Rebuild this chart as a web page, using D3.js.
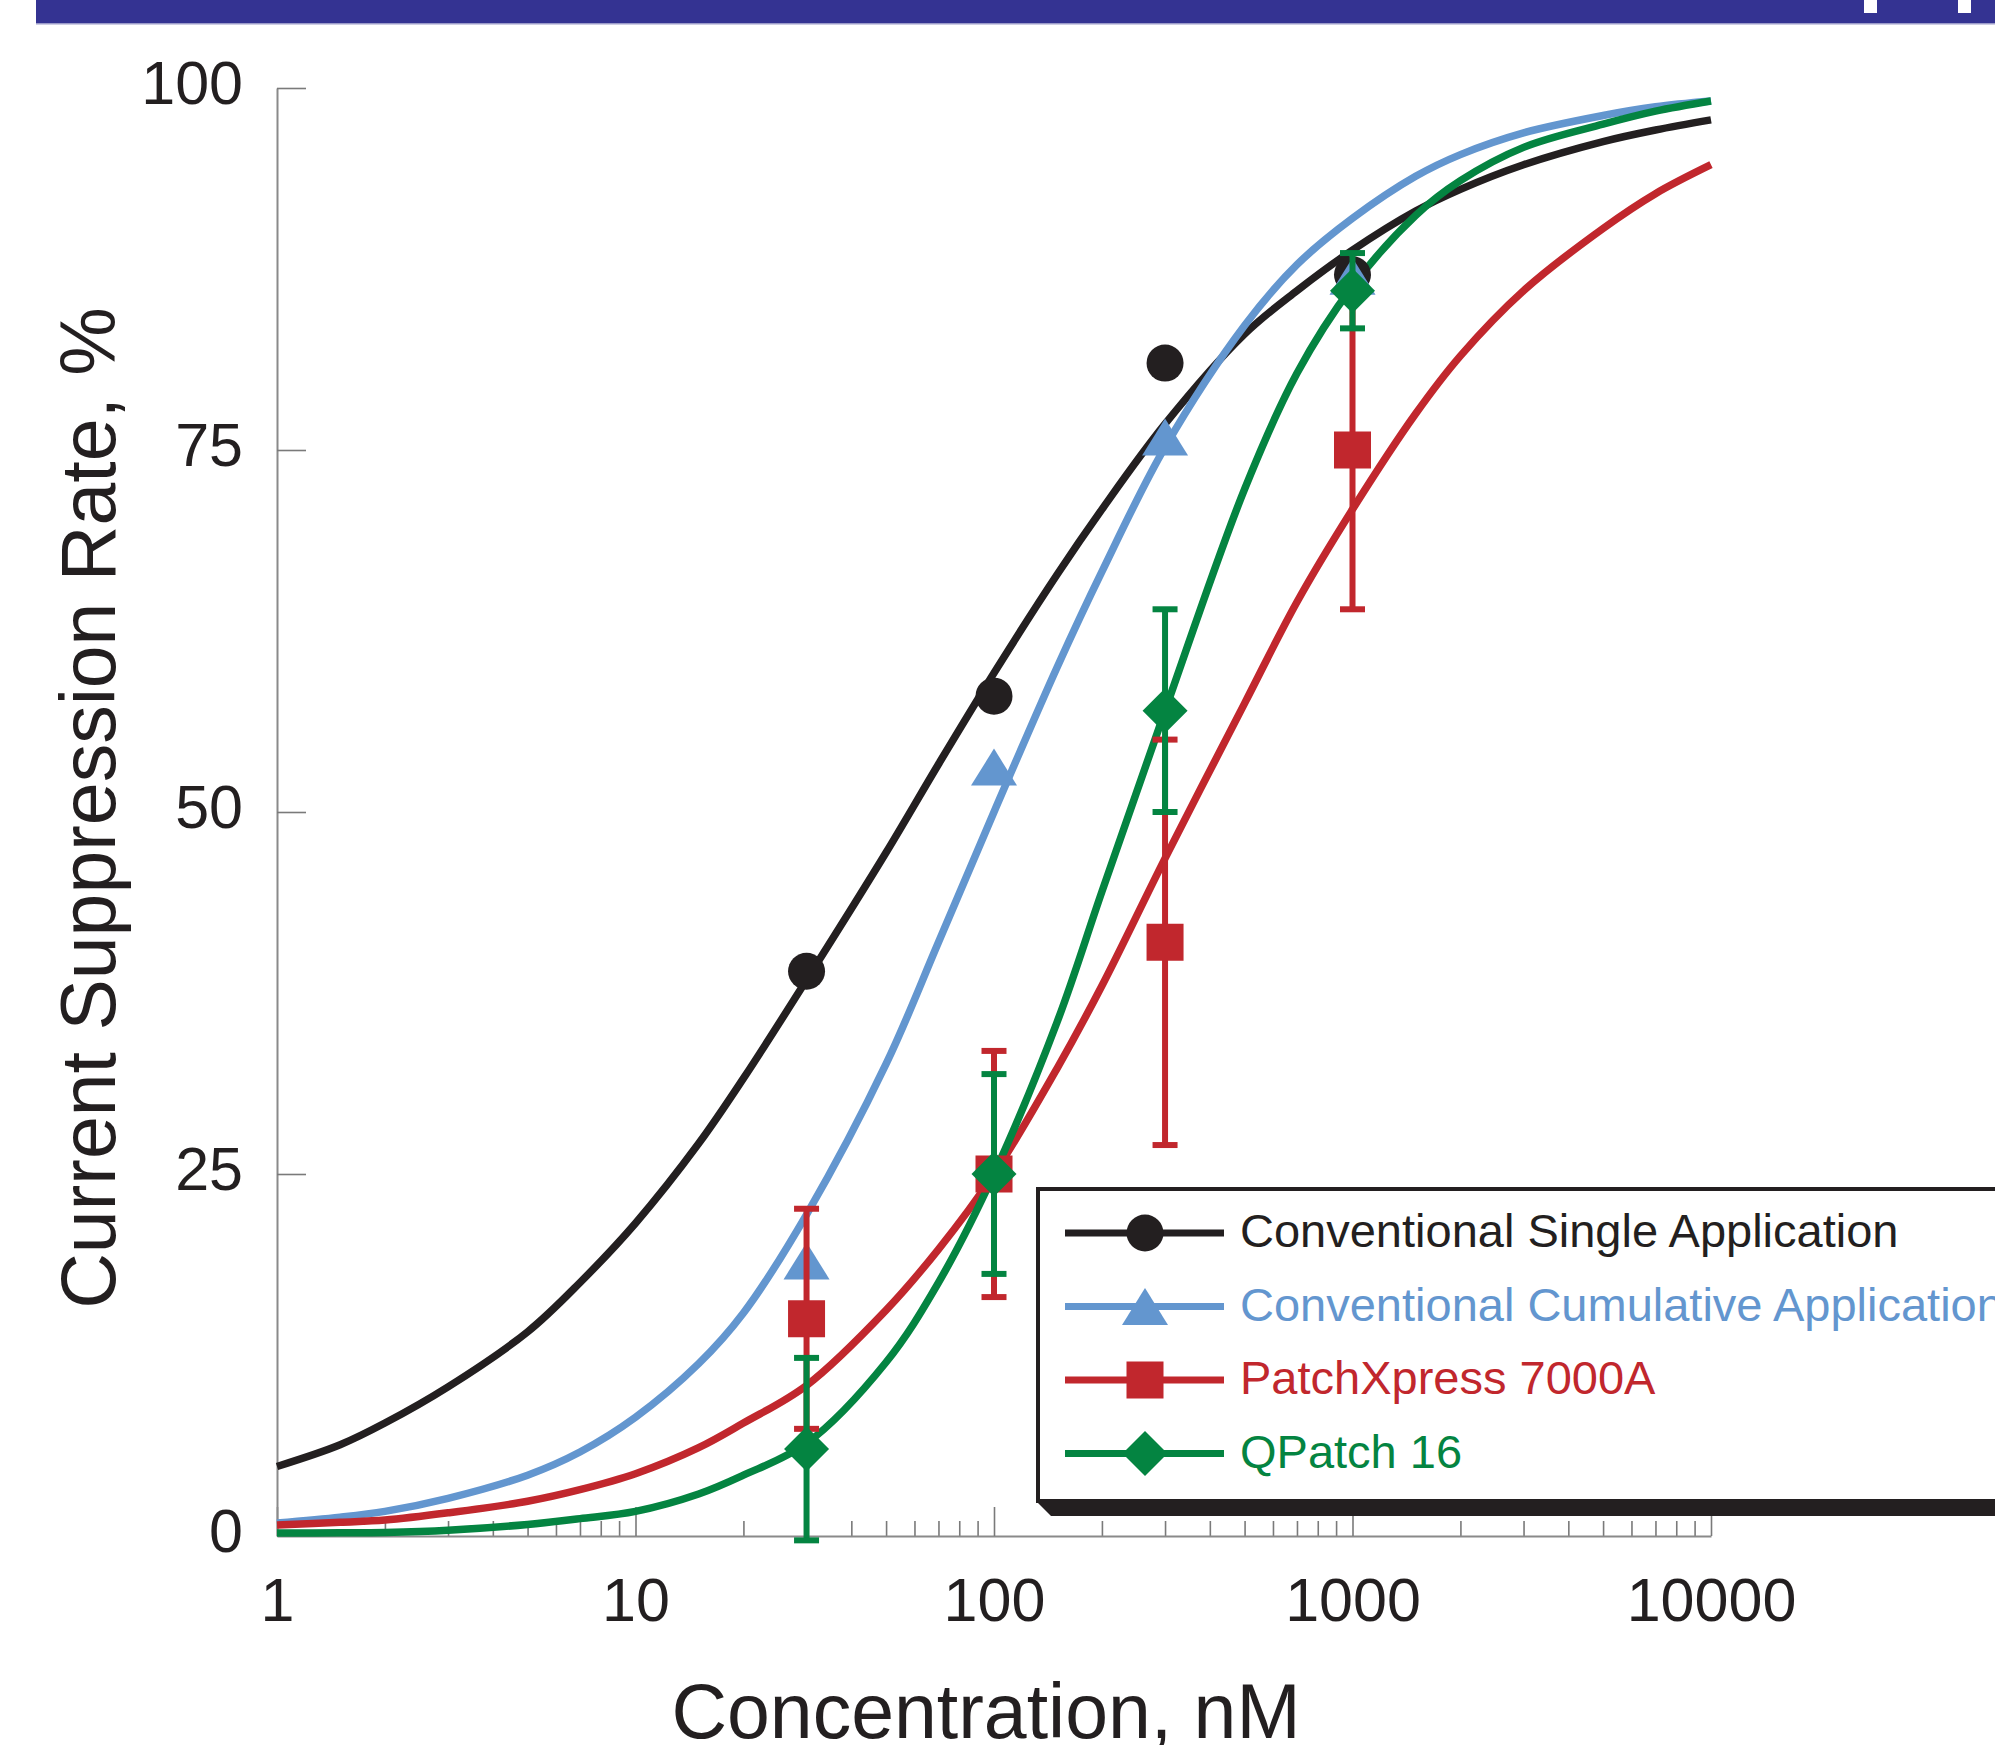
<!DOCTYPE html>
<html>
<head>
<meta charset="utf-8">
<script src="https://cdn.jsdelivr.net/npm/d3@7"></script>
<style>
  body { margin: 0; background: #fff; }
  text { font-family: "Liberation Sans", Arial, Helvetica, sans-serif; fill: #231f20; }
</style>
</head>
<body>
<svg id="chart" width="1995" height="1745"></svg>
<script>
const curveConc = [1, 1.5, 2, 3, 5, 7, 10, 15, 20, 30, 50, 70, 100, 150, 200, 300, 500, 700, 1000, 1500, 2000, 3000, 5000, 7000, 10000];

// fitted curves, % suppression
const singleFit     = [4.8, 6.3, 7.8, 10.3, 14.1, 17.5, 21.6, 27.1, 31.6, 38.4, 47.2, 53.3, 59.6, 66.4, 70.9, 76.8, 83.0, 86.0, 88.8, 91.5, 93.0, 94.7, 96.3, 97.1, 97.8];
const cumulativeFit = [0.9, 1.3, 1.7, 2.6, 4.2, 5.8, 8.2, 11.9, 15.4, 22.2, 32.6, 41.0, 50.0, 60.0, 66.6, 75.2, 83.6, 87.8, 91.0, 93.9, 95.4, 96.9, 98.1, 98.7, 99.1];
const patchXFit     = [0.76, 0.95, 1.1, 1.6, 2.4, 3.2, 4.3, 6.1, 7.8, 10.4, 15.6, 19.8, 25.0, 32.3, 38.0, 46.8, 57.5, 64.5, 70.9, 77.5, 81.5, 86.0, 90.3, 92.7, 94.7];
const qPatchFit     = [0.2, 0.22, 0.25, 0.4, 0.8, 1.2, 1.7, 2.9, 4.2, 6.4, 12.0, 17.5, 25.0, 35.5, 44.5, 57.0, 72.3, 80.3, 86.3, 91.2, 93.6, 95.9, 97.5, 98.4, 99.1];

// measured points
const pointConc     = [30, 100, 300, 1000];
const singlePts     = [39.0, 58.0, 81.0, 87.1];
const cumulativePts = [19.0, 53.1, 75.9, 87.0];
const patchXPts     = [15.0, 25.0, 41.0, 75.0];
const patchXErr     = [7.6, 8.5, 14.0, 11.0];
const qPatchPts     = [6.0, 25.0, 57.0, 86.0];
const qPatchErr     = [6.3, 6.9, 7.0, 2.6];

const seriesNames = ["Conventional Single Application", "Conventional Cumulative Application", "PatchXpress 7000A", "QPatch 16"];
const xTickLabels = [1, 10, 100, 1000, 10000];
const yTickLabels = [0, 25, 50, 75, 100];

const series = [
  { name: seriesNames[0], fit: singleFit, pts: singlePts, err: null, color: "#231f20", shape: "circle" },
  { name: seriesNames[1], fit: cumulativeFit, pts: cumulativePts, err: null, color: "#6396cf", shape: "triangle" },
  { name: seriesNames[2], fit: patchXFit, pts: patchXPts, err: patchXErr, color: "#c1272d", shape: "square" },
  { name: seriesNames[3], fit: qPatchFit, pts: qPatchPts, err: qPatchErr, color: "#048441", shape: "diamond" }
];

const svg = d3.select("#chart");
svg.append("rect").attr("width", 1995).attr("height", 1745).attr("fill", "#fff");

// header band at the top
svg.append("rect").attr("x", 36).attr("y", 0).attr("width", 1959).attr("height", 23).attr("fill", "#343392");
svg.append("rect").attr("x", 36).attr("y", 23).attr("width", 1959).attr("height", 1.5).attr("fill", "#9b9bc9");
svg.append("rect").attr("x", 1864).attr("y", 0).attr("width", 13).attr("height", 13).attr("fill", "#fff");
svg.append("rect").attr("x", 1958).attr("y", 0).attr("width", 13).attr("height", 13).attr("fill", "#fff");

const x = d3.scaleLog().domain([1, 10000]).range([277, 1711]);
const y = d3.scaleLinear().domain([0, 100]).range([1536, 88]);

// minor ticks on the log axis
const minorTicks = [];
for (let dec = 1; dec < 10000; dec *= 10) {
  for (let k = 2; k <= 9; k++) minorTicks.push(dec * k);
}

const xMinor = svg.append("g")
  .attr("transform", "translate(0,1536)")
  .call(d3.axisBottom(x).tickValues(minorTicks).tickSize(-15).tickSizeOuter(0).tickFormat(""));
xMinor.select(".domain").remove();

const xAxis = svg.append("g")
  .attr("transform", "translate(0,1536)")
  .call(d3.axisBottom(x).tickValues(xTickLabels).tickSize(-29).tickSizeOuter(0).tickPadding(42)
    .tickFormat(d3.format("d")));

const yAxis = svg.append("g")
  .attr("transform", "translate(277,0)")
  .call(d3.axisLeft(y).tickValues(yTickLabels).tickSize(-29).tickSizeOuter(0).tickPadding(34));

[xMinor, xAxis, yAxis].forEach(g => {
  g.selectAll(".domain").attr("stroke", "#8a8a8a").attr("stroke-width", 2);
  g.selectAll(".tick line").attr("stroke", "#7a7a7a").attr("stroke-width", 1.6);
});
xAxis.selectAll(".tick text").attr("font-size", 61).attr("fill", "#231f20")
  .attr("font-family", "Liberation Sans, Arial, sans-serif");
yAxis.selectAll(".tick text").attr("font-size", 61).attr("fill", "#231f20").attr("dy", "0.26em")
  .attr("font-family", "Liberation Sans, Arial, sans-serif");
yAxis.selectAll(".tick").filter(d => d === 0).select("line").remove();

// axis titles
svg.append("text")
  .attr("x", 986).attr("y", 1738)
  .attr("text-anchor", "middle").attr("font-size", 77)
  .text("Concentration, nM");

svg.append("text")
  .attr("transform", "translate(115,808) rotate(-90)")
  .attr("text-anchor", "middle").attr("font-size", 77)
  .text("Current Suppression Rate, %");

// marker shapes
function markerPath(shape, cx, cy) {
  if (shape === "circle") {
    const r = 18.5;
    return `M${cx - r},${cy}a${r},${r} 0 1,0 ${2 * r},0a${r},${r} 0 1,0 ${-2 * r},0Z`;
  }
  if (shape === "triangle") {
    const w = 46, h = 37;
    return `M${cx},${cy - h / 2}L${cx + w / 2},${cy + h / 2}L${cx - w / 2},${cy + h / 2}Z`;
  }
  if (shape === "square") {
    const s = 37;
    return `M${cx - s / 2},${cy - s / 2}h${s}v${s}h${-s}Z`;
  }
  const w = 45, h = 45;
  return `M${cx},${cy - h / 2}L${cx + w / 2},${cy}L${cx},${cy + h / 2}L${cx - w / 2},${cy}Z`;
}

const line = d3.line()
  .x(d => x(d[0]))
  .y(d => y(d[1]))
  .curve(d3.curveCatmullRom.alpha(0.5));

// fitted curves
series.forEach(s => {
  svg.append("path")
    .datum(curveConc.map((c, i) => [c, s.fit[i]]))
    .attr("d", line)
    .attr("fill", "none")
    .attr("stroke", s.color)
    .attr("stroke-width", 7.5);
});

// error bars and points
series.forEach(s => {
  const g = svg.append("g");
  const pts = pointConc.map((c, i) => ({ c: c, v: s.pts[i], e: s.err ? s.err[i] : 0 }));
  if (s.err) {
    g.selectAll(".bar").data(pts).enter().append("line")
      .attr("x1", d => x(d.c)).attr("x2", d => x(d.c))
      .attr("y1", d => y(d.v + d.e)).attr("y2", d => y(d.v - d.e))
      .attr("stroke", s.color).attr("stroke-width", 6);
    [1, -1].forEach(sign => {
      g.selectAll(".cap" + sign).data(pts).enter().append("line")
        .attr("x1", d => x(d.c) - 12.5).attr("x2", d => x(d.c) + 12.5)
        .attr("y1", d => y(d.v + sign * d.e)).attr("y2", d => y(d.v + sign * d.e))
        .attr("stroke", s.color).attr("stroke-width", 6);
    });
  }
  g.selectAll(".pt").data(pts).enter().append("path")
    .attr("d", d => markerPath(s.shape, x(d.c), y(d.v)))
    .attr("fill", s.color);
});

// legend
const legend = svg.append("g");
legend.append("path")
  .attr("d", "M1036,1501L1051,1516L1995,1516L1995,1501Z")
  .attr("fill", "#231f20");
legend.append("rect")
  .attr("x", 1038).attr("y", 1189).attr("width", 1000).attr("height", 312)
  .attr("fill", "#fff").attr("stroke", "#231f20").attr("stroke-width", 4);

series.forEach((s, i) => {
  const ly = 1233 + i * 73.5;
  legend.append("line")
    .attr("x1", 1065).attr("x2", 1224).attr("y1", ly).attr("y2", ly)
    .attr("stroke", s.color).attr("stroke-width", 7);
  legend.append("path")
    .attr("d", markerPath(s.shape, 1145, ly))
    .attr("fill", s.color);
  legend.append("text")
    .attr("x", 1240).attr("y", ly + 14)
    .attr("font-size", 47)
    .style("fill", s.color)
    .text(s.name);
});
</script>
</body>
</html>
